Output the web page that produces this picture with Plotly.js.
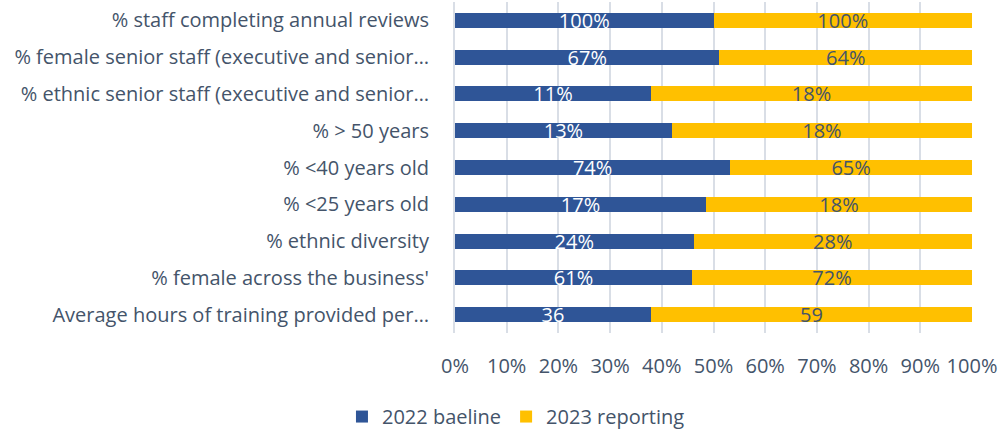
<!DOCTYPE html>
<html>
<head>
<meta charset="utf-8">
<script src="https://cdn.plot.ly/plotly-3.0.1.min.js"></script>
<style>
  html, body { margin: 0; padding: 0; background: #fff; }
  #chart { width: 998px; height: 433px; }
</style>
</head>
<body>
<div id="chart"></div>
<script>
// Categories, top to bottom
const categories = [
    '% staff completing annual reviews',
    '% female senior staff (executive and senior…',
    '% ethnic senior staff (executive and senior…',
    '% > 50 years',
    '% <40 years old',
    '% <25 years old',
    '% ethnic diversity',
    "% female across the business'",
    'Average hours of training provided per…'
];
const baseline2022 = [100, 67, 11, 13, 74, 17, 24, 61, 36];
const reporting2023 = [100, 64, 18, 18, 65, 18, 28, 72, 59];
const labels2022 = ['100%', '67%', '11%', '13%', '74%', '17%', '24%', '61%', '36'];
const labels2023 = ['100%', '64%', '18%', '18%', '65%', '18%', '28%', '72%', '59'];

const textColor = '#44546A';
const fontFamily = '"Open Sans", sans-serif';
const fontSize = 20;

const data = [
    {
        type: 'bar',
        orientation: 'h',
        name: '2022 baeline',
        y: categories,
        x: baseline2022,
        text: labels2022,
        textposition: 'inside',
        insidetextanchor: 'middle',
        textangle: 0,
        textfont: { color: '#ffffff', size: fontSize, family: fontFamily },
        marker: { color: '#2F5597' },
        hoverinfo: 'none'
    },
    {
        type: 'bar',
        orientation: 'h',
        name: '2023 reporting',
        y: categories,
        x: reporting2023,
        text: labels2023,
        textposition: 'inside',
        insidetextanchor: 'middle',
        textangle: 0,
        textfont: { color: textColor, size: fontSize, family: fontFamily },
        marker: { color: '#FFC000' },
        hoverinfo: 'none'
    }
];

const layout = {
    width: 998,
    height: 433,
    barmode: 'stack',
    barnorm: 'percent',
    bargap: 0.59,
    margin: { l: 455, r: 26, t: 2, b: 100, autoexpand: false },
    paper_bgcolor: '#ffffff',
    plot_bgcolor: '#ffffff',
    font: { family: fontFamily, color: textColor, size: fontSize },
    uniformtext: { mode: 'show', minsize: fontSize },
    showlegend: true,
    legend: {
        orientation: 'h',
        xref: 'container', x: 0.517,
        xanchor: 'center',
        yref: 'container', y: 0.038,
        yanchor: 'middle',
        font: { size: fontSize, color: textColor },
        traceorder: 'normal'
    },
    xaxis: {
        range: [0, 100],
        dtick: 10,
        ticksuffix: '%',
        showgrid: true,
        gridcolor: '#D9DEE6',
        gridwidth: 2,
        zeroline: false,
        showline: false,
        tickfont: { size: fontSize, color: textColor },
        ticklabelstandoff: 19,
        ticklabeloverflow: 'allow',
        fixedrange: true
    },
    yaxis: {
        autorange: 'reversed',
        showline: true,
        linecolor: '#D9DEE6',
        linewidth: 2,
        showgrid: false,
        tickfont: { size: fontSize, color: textColor },
        ticklabelstandoff: 20,
        fixedrange: true
    }
};

Plotly.newPlot('chart', data, layout, { displayModeBar: false, staticPlot: true });
</script>
</body>
</html>
